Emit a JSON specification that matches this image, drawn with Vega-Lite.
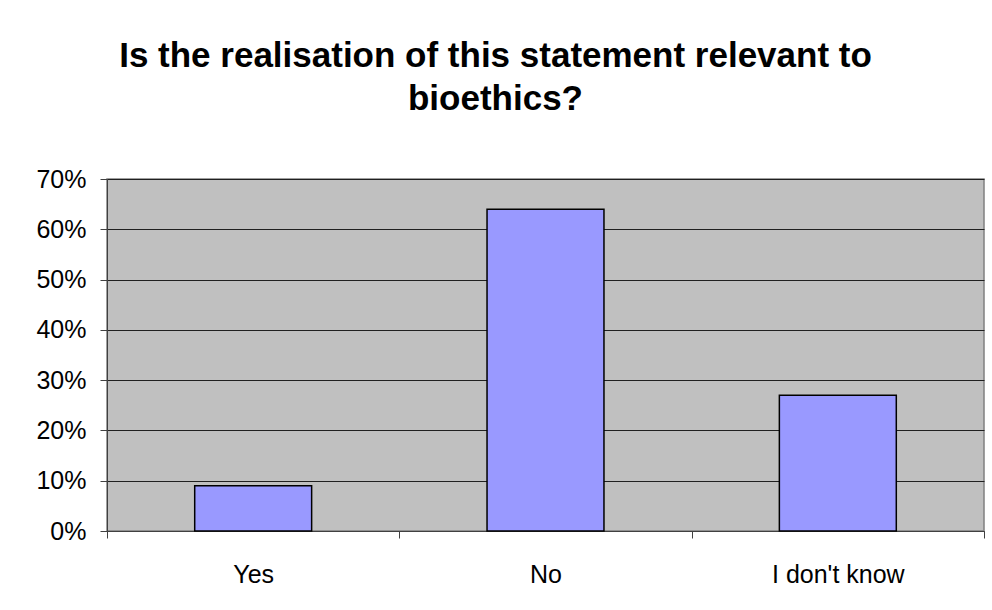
{
  "$schema": "https://vega.github.io/schema/vega-lite/v6.json",
  "autosize": "none",
  "width": 877,
  "height": 352,
  "padding": {"left": 107, "top": 179, "right": 8, "bottom": 79},
  "background": "white",
  "title": {
    "text": ["Is the realisation of this statement relevant to", "bioethics?"],
    "font": "Liberation Sans",
    "fontSize": 35,
    "fontWeight": "bold",
    "color": "black",
    "anchor": "middle",
    "frame": "group",
    "dx": -50,
    "offset": 50,
    "lineHeight": 43
  },
  "data": {
    "values": [
      {"answer": "Yes", "share": 0.09},
      {"answer": "No", "share": 0.64},
      {"answer": "I don't know", "share": 0.27}
    ]
  },
  "mark": {"type": "bar", "fill": "#9999FF", "stroke": "black", "strokeWidth": 1.5, "width": {"band": 0.4}},
  "encoding": {
    "x": {
      "field": "answer",
      "type": "nominal",
      "sort": null,
      "scale": {"paddingInner": 0, "paddingOuter": 0},
      "axis": {
        "title": null,
        "labelAngle": 0,
        "labelFont": "Liberation Sans",
        "labelFontSize": 25,
        "labelColor": "black",
        "labelPadding": 24,
        "tickBand": "extent",
        "tickSize": 7,
        "tickColor": "#404040",
        "domainColor": "#404040",
        "grid": false
      }
    },
    "y": {
      "field": "share",
      "type": "quantitative",
      "scale": {"domain": [0, 0.7], "nice": false},
      "axis": {
        "title": null,
        "format": ".0%",
        "values": [0, 0.1, 0.2, 0.3, 0.4, 0.5, 0.6, 0.7],
        "labelFont": "Liberation Sans",
        "labelFontSize": 25,
        "labelColor": "black",
        "labelPadding": 14,
        "tickSize": 7,
        "tickColor": "#404040",
        "domainColor": "#404040",
        "grid": true,
        "gridColor": "#202020",
        "gridOpacity": 1,
        "gridWidth": 1
      }
    }
  },
  "config": {
    "view": {"fill": "#C0C0C0", "stroke": "#808080", "strokeWidth": 1.5}
  }
}
